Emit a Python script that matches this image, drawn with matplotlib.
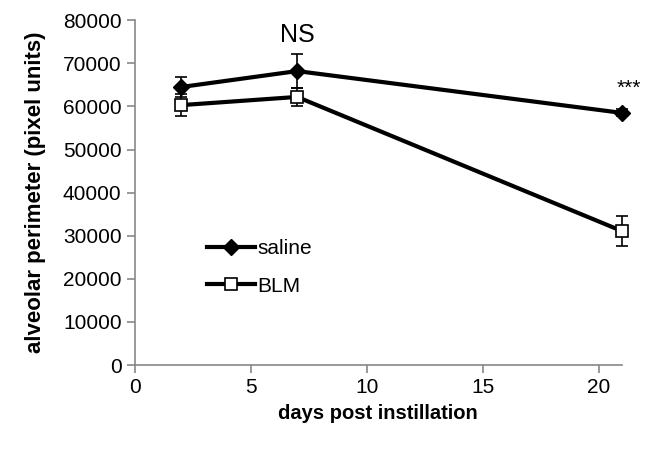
import matplotlib.pyplot as plt

plt.rcParams['font.family'] = ['Liberation Sans', 'DejaVu Sans']

days = [2, 7, 21]
saline = [64500, 68200, 58500]
saline_err = [2300, 4000, 800]
blm = [60300, 62200, 31100]
blm_err = [2500, 2000, 3400]

xticks = [0, 5, 10, 15, 20]
yticks = [0, 10000, 20000, 30000, 40000, 50000, 60000, 70000, 80000]

fig = plt.figure(figsize=(6.45, 4.49), dpi=100)
ax = fig.add_axes([0.209, 0.187, 0.755, 0.768])

ax.errorbar(days, saline, yerr=saline_err, color='black', lw=3, marker='D',
            markersize=8.5, mfc='black', mec='black', ecolor='black',
            elinewidth=1.2, capsize=4, capthick=1.2, label='saline',
            zorder=3, clip_on=False)
ax.errorbar(days, blm, yerr=blm_err, color='black', lw=3, marker='s',
            markersize=9, mfc='white', mec='black', mew=1.2, ecolor='black',
            elinewidth=1.2, capsize=4, capthick=1.2, label='BLM',
            zorder=3, clip_on=False)

ax.text(7, 73800, 'NS', ha='center', va='bottom', fontsize=18)
ax.text(21.3, 62000, '***', ha='center', va='bottom', fontsize=15)

ax.set_xlim(0, 21)
ax.set_ylim(0, 80000)
ax.set_xticks(xticks)
ax.set_yticks(yticks)
ax.tick_params(labelsize=15, color='#888888', length=6, width=1.2)
for s in ['top', 'right']:
    ax.spines[s].set_visible(False)
for s in ['left', 'bottom']:
    ax.spines[s].set_color('#888888')
    ax.spines[s].set_linewidth(1.2)

ax.set_xlabel('days post instillation', fontsize=14.5, fontweight='bold', labelpad=5)
ax.set_ylabel('alveolar perimeter (pixel units)', fontsize=16, fontweight='bold', labelpad=12)

handles, labels = ax.get_legend_handles_labels()
handles = [h[0] for h in handles]
ax.legend(handles, labels, loc='upper left', bbox_to_anchor=(0.11, 0.42),
          frameon=False, fontsize=15, handlelength=2.3, handletextpad=0.1,
          labelspacing=0.9)

fig.savefig('out.png', dpi=100)
